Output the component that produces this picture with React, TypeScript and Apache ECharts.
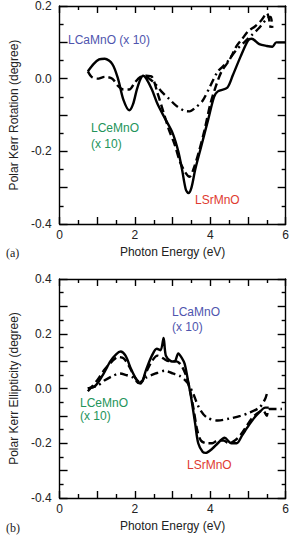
import React, { useEffect, useRef } from "react";
import * as echarts from "echarts";

// Panel (a): polar Kerr rotation
const rotSrE = [0.75, 0.9, 1.05, 1.2, 1.4, 1.55, 1.7, 1.85, 1.95, 2.05, 2.15, 2.22, 2.3, 2.45, 2.6, 2.8, 3.0, 3.15, 3.25, 3.35, 3.42, 3.5, 3.6, 3.75, 3.95, 4.1, 4.2, 4.45, 4.6, 4.8, 5.0, 5.1, 5.3, 5.5, 5.65, 5.75, 6.0];
const rotSrV = [0.02, 0.04, 0.053, 0.055, 0.04, 0.0, -0.06, -0.087, -0.07, -0.03, 0.0, 0.008, 0.0, -0.03, -0.07, -0.11, -0.15, -0.2, -0.25, -0.305, -0.315, -0.3, -0.25, -0.19, -0.11, -0.05, -0.035, -0.025, 0.01, 0.06, 0.105, 0.11, 0.095, 0.09, 0.088, 0.1, 0.1];

const rotCeE = [0.75, 0.85, 1.0, 1.2, 1.4, 1.55, 1.7, 1.85, 2.0, 2.15, 2.3, 2.45, 2.6, 2.75, 2.9, 3.05, 3.2, 3.35, 3.45, 3.55, 3.7, 3.85, 4.0, 4.15, 4.3, 4.5, 4.7, 4.85, 5.0, 5.2, 5.35, 5.5, 5.6];
const rotCeV = [0.02, 0.005, 0.0, 0.005, 0.0, -0.02, -0.03, -0.03, -0.01, 0.005, 0.008, 0.005, -0.04, -0.09, -0.14, -0.18, -0.23, -0.26, -0.27, -0.25, -0.2, -0.14, -0.07, -0.02, 0.02, 0.05, 0.09, 0.11, 0.13, 0.145, 0.16, 0.18, 0.14];

const rotCaE = [2.3, 2.5, 2.7, 2.9, 3.1, 3.3, 3.45, 3.6, 3.8, 4.0, 4.2, 4.4, 4.55, 4.7, 4.9, 5.1, 5.3, 5.5, 5.6, 5.65];
const rotCaV = [0.005, -0.01, -0.035, -0.055, -0.075, -0.088, -0.09, -0.08, -0.06, -0.02, 0.02, 0.04, 0.06, 0.08, 0.1, 0.12, 0.14, 0.165, 0.17, 0.13];

// Panel (b): polar Kerr ellipticity
const ellSrE = [0.75, 0.95, 1.15, 1.35, 1.5, 1.62, 1.75, 1.9, 2.05, 2.15, 2.3, 2.45, 2.58, 2.68, 2.76, 2.82, 2.95, 3.05, 3.15, 3.25, 3.32, 3.42, 3.5, 3.6, 3.68, 3.8, 3.88, 4.05, 4.2, 4.38, 4.56, 4.7, 4.85, 4.97, 5.15, 5.28, 5.46, 5.55];
const ellSrV = [0.0, 0.01, 0.05, 0.1, 0.125, 0.135, 0.12, 0.07, 0.03, 0.018, 0.07, 0.12, 0.145, 0.14, 0.185, 0.12, 0.1, 0.098, 0.128, 0.11, 0.09, 0.02, -0.04, -0.13, -0.2, -0.232, -0.235, -0.22, -0.2, -0.18, -0.2, -0.2, -0.17, -0.145, -0.11, -0.09, -0.07, -0.07];

const ellCeE = [0.75, 1.0, 1.2, 1.4, 1.55, 1.7, 1.85, 2.0, 2.15, 2.3, 2.45, 2.6, 2.75, 2.9, 3.05, 3.2, 3.35, 3.45, 3.55, 3.65, 3.75, 3.9, 4.05, 4.2, 4.35, 4.5, 4.65, 4.8, 4.95, 5.1, 5.25, 5.4, 5.5, 5.55, 5.9];
const ellCeV = [-0.01, 0.03, 0.07, 0.1, 0.115, 0.11, 0.08, 0.04, 0.02, 0.06, 0.1, 0.12, 0.11, 0.1, 0.1, 0.09, 0.05, 0.0, -0.07, -0.15, -0.19, -0.2, -0.2, -0.19, -0.19, -0.2, -0.19, -0.17, -0.14, -0.11, -0.09, -0.08, -0.1, -0.075, -0.075];

const ellCaE = [0.75, 1.0, 1.2, 1.4, 1.6, 1.75, 1.95, 2.1, 2.3, 2.55, 2.8, 3.0, 3.2, 3.4, 3.55, 3.7, 3.9, 4.2, 4.5, 4.8, 5.0, 5.3, 5.45, 5.5];
const ellCaV = [0.0, 0.01, 0.03, 0.045, 0.055, 0.05, 0.04, 0.02, 0.04, 0.055, 0.065, 0.055, 0.045, 0.02, -0.02, -0.07, -0.105, -0.117, -0.11, -0.1, -0.09, -0.07, -0.04, -0.02];

const xTicks = { min: 0, max: 6, interval: 1 };
const rotTicks = { min: -0.4, max: 0.2, interval: 0.1 };
const ellTicks = { min: -0.4, max: 0.4, interval: 0.1 };

const zip = (xs: number[], ys: number[]) => xs.map((x, i) => [x, ys[i]]);

const SANS = "'Liberation Sans', Arial, Helvetica, sans-serif";
const SERIF = "'Liberation Serif', 'Times New Roman', serif";
const BLUE = "#4f55ae";
const GREEN = "#23945a";
const RED = "#e03a30";

const frameStyle = { color: "#000", width: 1.4 };

function xAxisDef(grid: number, top: boolean, withName: boolean) {
  return {
    type: "value",
    gridIndex: grid,
    position: top ? "top" : "bottom",
    ...xTicks,
    name: withName ? "Photon Energy (eV)" : "",
    nameLocation: "middle",
    nameGap: 22,
    nameTextStyle: { fontFamily: SANS, fontSize: 12, color: "#222" },
    axisLine: { show: true, onZero: false, lineStyle: frameStyle },
    axisTick: { show: true, inside: true, length: 7, lineStyle: frameStyle },
    minorTick: { show: true, splitNumber: 2, length: 4, lineStyle: frameStyle },
    splitLine: { show: false },
    minorSplitLine: { show: false },
    axisLabel: {
      show: !top,
      margin: 5,
      fontFamily: SANS,
      fontSize: 12,
      color: "#222",
      formatter: (v: number) => (Math.round(v) % 2 === 0 ? String(Math.round(v)) : ""),
    },
  };
}

function yAxisDef(grid: number, right: boolean, ticks: { min: number; max: number; interval: number }, name: string) {
  return {
    type: "value",
    gridIndex: grid,
    position: right ? "right" : "left",
    ...ticks,
    name: right ? "" : name,
    nameLocation: "middle",
    nameGap: 36,
    nameRotate: 90,
    nameTextStyle: { fontFamily: SANS, fontSize: 12, color: "#222" },
    axisLine: { show: true, onZero: false, lineStyle: frameStyle },
    axisTick: { show: true, inside: true, length: 8, lineStyle: frameStyle },
    minorTick: { show: true, splitNumber: 2, length: 4, lineStyle: frameStyle },
    splitLine: { show: false },
    minorSplitLine: { show: false },
    axisLabel: {
      show: !right,
      margin: 8,
      fontFamily: SANS,
      fontSize: 12,
      color: "#222",
      formatter: (v: number) => (Math.abs(Math.round(v * 10)) % 2 === 0 ? v.toFixed(1) : ""),
    },
  };
}

function lineSeries(xIdx: number, yIdx: number, data: number[][], type: string | number[]) {
  return {
    type: "line",
    xAxisIndex: xIdx,
    yAxisIndex: yIdx,
    data,
    showSymbol: false,
    symbol: "none",
    smooth: 0.3,
    lineStyle: { color: "#000", width: 2.4, type },
    z: 3,
  };
}

function label(text: string, x: number, y: number, fill: string, font = SANS, size = 12) {
  return {
    type: "text",
    x,
    y,
    style: { text, fill, fontFamily: font, fontSize: size, verticalAlign: "middle" },
  };
}

export default function App() {
  const ref = useRef<HTMLDivElement>(null);

  useEffect(() => {
    if (!ref.current) return;
    const chart = echarts.init(ref.current, undefined, { renderer: "svg" });
    const dashed = [8, 4];
    const dashDot = [8, 4, 2, 4];
    chart.setOption({
      animation: false,
      backgroundColor: "#fff",
      grid: [
        { left: 54, top: 2, width: 234, height: 222 },
        { left: 55, top: 279, width: 233, height: 219 },
      ],
      xAxis: [xAxisDef(0, false, true), xAxisDef(0, true, false), xAxisDef(1, false, true), xAxisDef(1, true, false)],
      yAxis: [
        yAxisDef(0, false, rotTicks, "Polar Kerr Rotation (degree)"),
        yAxisDef(0, true, rotTicks, ""),
        yAxisDef(1, false, ellTicks, "Polar Kerr Ellipticity (degree)"),
        yAxisDef(1, true, ellTicks, ""),
      ],
      series: [
        lineSeries(0, 0, zip(rotSrE, rotSrV), "solid"),
        lineSeries(0, 0, zip(rotCeE, rotCeV), dashed),
        lineSeries(0, 0, zip(rotCaE, rotCaV), dashDot),
        lineSeries(2, 2, zip(ellSrE, ellSrV), "solid"),
        lineSeries(2, 2, zip(ellCeE, ellCeV), dashed),
        lineSeries(2, 2, zip(ellCaE, ellCaV), dashDot),
      ],
      graphic: [
        label("LCaMnO (x 10)", 68, 40, BLUE),
        label("LCeMnO", 91, 128, GREEN),
        label("(x 10)", 91, 144, GREEN),
        label("LSrMnO", 195, 200, RED),
        label("(a)", 6, 253, "#222", SERIF, 12),
        label("LCaMnO", 172, 312, BLUE),
        label("(x 10)", 172, 327, BLUE),
        label("LCeMnO", 80, 403, GREEN),
        label("(x 10)", 80, 416, GREEN),
        label("LSrMnO", 187, 465, RED),
        label("(b)", 6, 528, "#222", SERIF, 12),
      ],
    });
    return () => chart.dispose();
  }, []);

  return (
    <div
      ref={ref}
      style={{ position: "absolute", left: 0, top: 0, width: 292, height: 537, background: "#fff" }}
    />
  );
}
